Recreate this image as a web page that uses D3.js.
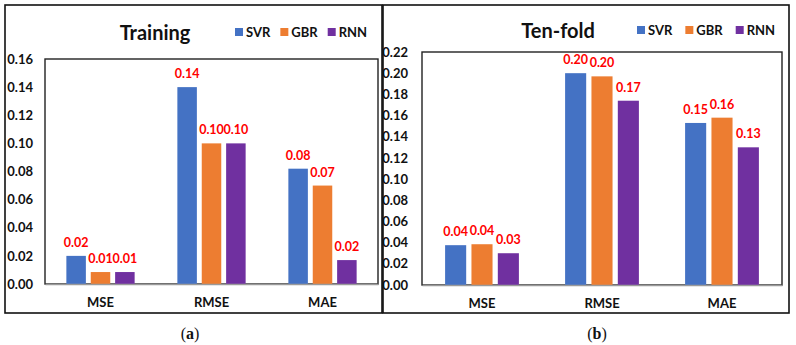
<!DOCTYPE html>
<html>
<head>
<meta charset="utf-8">
<script src="https://cdn.jsdelivr.net/npm/d3@7"></script>
<style>
  body { margin: 0; background: #fff; }
  svg text { font-family: Lato, "Open Sans", sans-serif; }
</style>
</head>
<body>
<svg id="chart" width="796" height="345"></svg>
<script>
// categories and series
var metrics = ["MSE", "RMSE", "MAE"];
var models = ["SVR", "GBR", "RNN"];

// (a) Training
var trainingSVR = [0.020, 0.140, 0.082];
var trainingGBR = [0.0085, 0.100, 0.070];
var trainingRNN = [0.0085, 0.100, 0.017];
var trainingTicks = [0, 0.02, 0.04, 0.06, 0.08, 0.10, 0.12, 0.14, 0.16];

// (b) Ten-fold
var tenfoldSVR = [0.0376, 0.200, 0.153];
var tenfoldGBR = [0.0385, 0.197, 0.158];
var tenfoldRNN = [0.030, 0.174, 0.130];
var tenfoldTicks = [0, 0.02, 0.04, 0.06, 0.08, 0.10, 0.12, 0.14, 0.16, 0.18, 0.20, 0.22];

var colors = ["#4472C4", "#ED7D31", "#7030A0"];
var svg = d3.select("#chart");

function drawPanel(p) {
  var g = svg.append("g");

  // outer frame
  g.append("rect")
    .attr("x", p.box[0]).attr("y", p.box[1])
    .attr("width", p.box[2] - p.box[0]).attr("height", p.box[3] - p.box[1])
    .attr("fill", "none").attr("stroke", "#111").attr("stroke-width", 1.6);

  var x0 = d3.scaleBand()
    .domain(metrics)
    .range([p.left, p.right])
    .paddingInner(0.385)
    .paddingOuter(0.1925);
  var x1 = d3.scaleBand()
    .domain(models)
    .range([0, x0.bandwidth()])
    .padding(0.2)
    .paddingOuter(0);
  var y = d3.scaleLinear()
    .domain([0, p.ticks[p.ticks.length - 1]])
    .range([p.bottom, p.top]);

  // inner plot box
  g.append("rect")
    .attr("x", p.left).attr("y", p.top)
    .attr("width", p.right - p.left).attr("height", p.bottom - p.top)
    .attr("fill", "none").attr("stroke", "#222").attr("stroke-width", 1.4);

  // y axis
  var ya = g.append("g")
    .attr("transform", "translate(" + p.left + ",0)")
    .call(d3.axisLeft(y).tickValues(p.ticks).tickFormat(d3.format(".2f")).tickSize(0).tickPadding(p.tickPad));
  ya.select(".domain").remove();
  ya.selectAll("text")
    .style("font-size", "13px").style("font-weight", "bold").attr("fill", "#111");

  // series rows
  var rows = metrics.map(function(m, i) {
    return { metric: m, values: p.series.map(function(s, k) { return { model: models[k], value: s[i] }; }) };
  });

  var groups = g.append("g").selectAll("g")
    .data(rows).enter().append("g")
    .attr("transform", function(d) { return "translate(" + x0(d.metric) + ",0)"; });

  groups.selectAll("rect")
    .data(function(d) { return d.values; })
    .enter().append("rect")
    .attr("x", function(d) { return x1(d.model); })
    .attr("y", function(d) { return y(d.value); })
    .attr("width", x1.bandwidth())
    .attr("height", function(d) { return y(0) - y(d.value); })
    .attr("fill", function(d, i) { return colors[i]; });

  groups.selectAll("text")
    .data(function(d) { return d.values; })
    .enter().append("text")
    .attr("x", function(d) { return x1(d.model) + x1.bandwidth() / 2; })
    .attr("y", function(d) { return y(d.value) - 9; })
    .attr("text-anchor", "middle")
    .style("font-size", "12.5px").style("font-weight", "bold")
    .attr("fill", "#FF0000")
    .text(function(d) { return d3.format(".2f")(d.value); });

  // x axis
  var xa = g.append("g")
    .attr("transform", "translate(0," + p.bottom + ")")
    .call(d3.axisBottom(x0).tickSize(0).tickPadding(14));
  xa.select(".domain").attr("stroke", "#9a9a9a").attr("stroke-width", 1.4);
  xa.selectAll("text")
    .style("font-size", "13px").style("font-weight", "bold").attr("fill", "#111");

  // title
  g.append("text")
    .attr("x", p.titleX).attr("y", p.titleY)
    .attr("text-anchor", "middle")
    .style("font-size", "20px").style("font-weight", "bold").attr("fill", "#111")
    .text(p.title);

  // legend
  var lx = p.legendX;
  models.forEach(function(m, i) {
    g.append("rect")
      .attr("x", lx).attr("y", p.titleY - 12)
      .attr("width", 8).attr("height", 8)
      .attr("fill", colors[i]);
    var t = g.append("text")
      .attr("x", lx + 11).attr("y", p.titleY - 3.5)
      .style("font-size", "13px").style("font-weight", "bold").attr("fill", "#111")
      .text(m);
    lx += 11 + t.node().getComputedTextLength() + p.legendGap;
  });

  // caption
  var cap = g.append("text")
    .attr("x", p.captionX).attr("y", 339)
    .attr("text-anchor", "middle")
    .style("font-family", "'Liberation Serif', 'DejaVu Serif', serif")
    .style("font-size", "16px").attr("fill", "#111");
  cap.append("tspan").text("(");
  cap.append("tspan").style("font-weight", "bold").text(p.caption);
  cap.append("tspan").text(")");
}

drawPanel({
  box: [5, 5, 382, 313],
  left: 45, right: 378, top: 59, bottom: 284, tickPad: 12,
  ticks: trainingTicks,
  series: [trainingSVR, trainingGBR, trainingRNN],
  title: "Training", titleX: 155, titleY: 40,
  legendX: 235, legendGap: 10,
  caption: "a", captionX: 190
});

drawPanel({
  box: [383, 5, 789, 313],
  left: 422, right: 782, top: 52, bottom: 285, tickPad: 14,
  ticks: tenfoldTicks,
  series: [tenfoldSVR, tenfoldGBR, tenfoldRNN],
  title: "Ten-fold", titleX: 558, titleY: 38,
  legendX: 637, legendGap: 13,
  caption: "b", captionX: 597
});
</script>
</body>
</html>
